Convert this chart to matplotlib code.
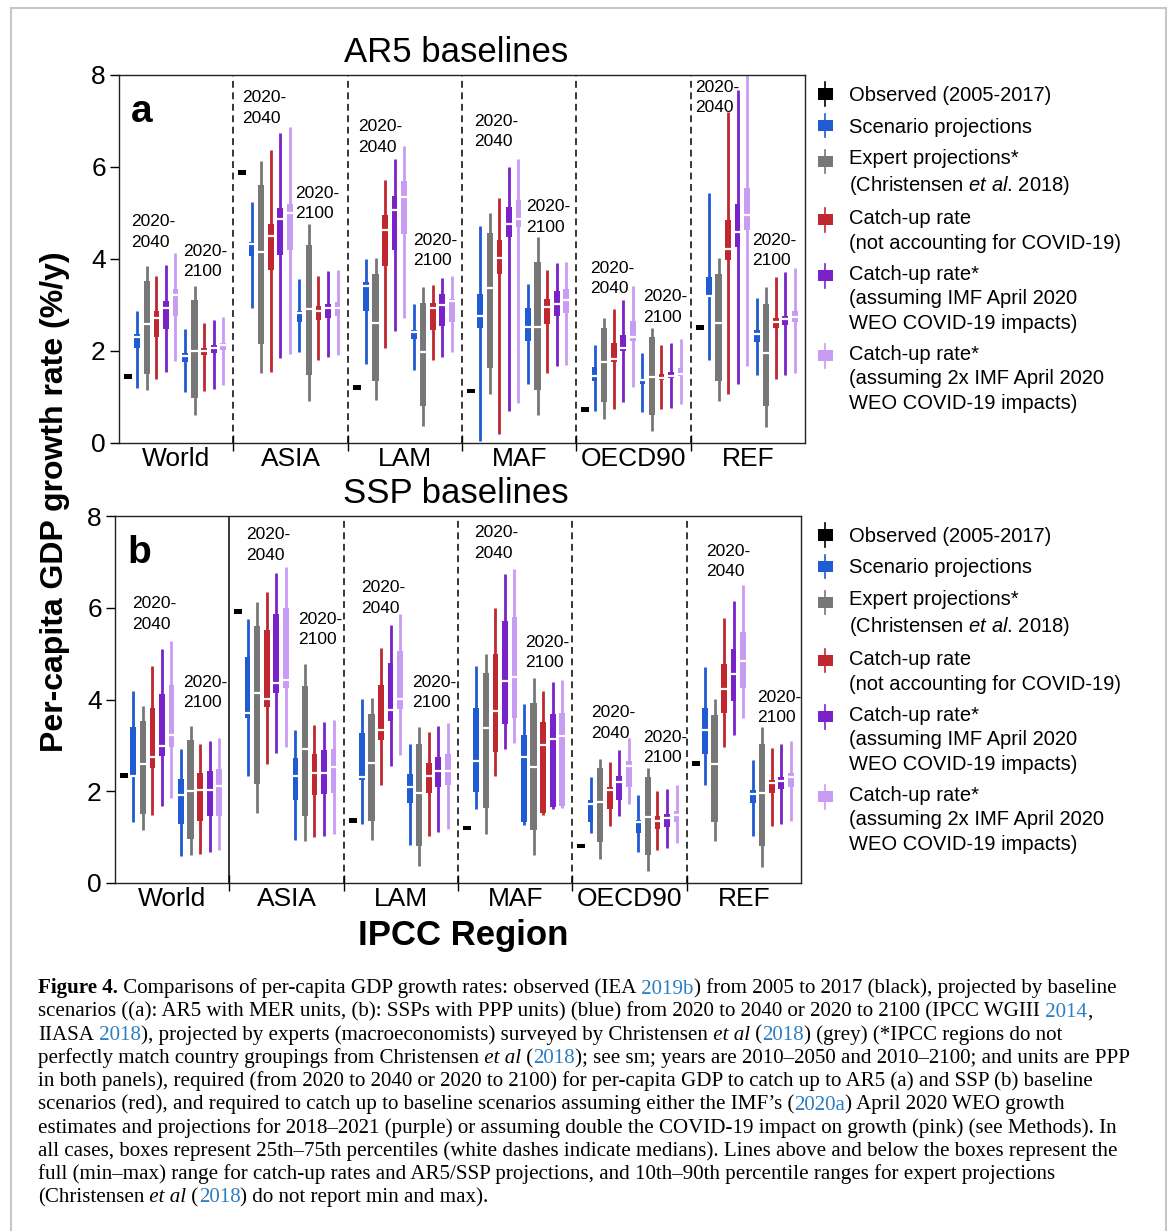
import numpy as np
import matplotlib.pyplot as plt
from matplotlib.patches import Rectangle
from matplotlib.lines import Line2D
from matplotlib.legend_handler import HandlerBase

plt.rcParams['font.family'] = ['Liberation Sans', 'DejaVu Sans']
plt.rcParams['mathtext.fontset'] = 'custom'
plt.rcParams['mathtext.rm'] = 'Liberation Sans'
plt.rcParams['mathtext.it'] = 'Liberation Sans:italic'

regions = ["World", "ASIA", "LAM", "MAF", "OECD90", "REF"]

# observed 2005-2017 growth
ar5_obs = [1.45, 5.88, 1.20, 1.13, 0.73, 2.51]
ssp_obs = [2.34, 5.92, 1.36, 1.20, 0.81, 2.60]

# each row: (min, q25, median, q75, max)  -- expert: (p10, q25, median, q75, p90)
expert_40 = [(1.16, 1.50, 2.59, 3.53, 3.85), (1.52, 2.15, 4.15, 5.61, 6.12), (0.93, 1.35, 2.61, 3.68, 4.03),
             (1.06, 1.64, 3.38, 4.57, 4.99), (0.53, 0.90, 1.77, 2.50, 2.71), (0.92, 1.34, 2.60, 3.67, 4.02)]
expert_00 = [(0.61, 0.97, 2.00, 3.11, 3.42), (0.91, 1.47, 2.92, 4.30, 4.77), (0.37, 0.81, 1.97, 3.04, 3.40),
             (0.61, 1.15, 2.52, 3.93, 4.47), (0.27, 0.61, 1.43, 2.30, 2.51), (0.35, 0.80, 1.96, 3.02, 3.39)]

# AR5, 2020-2040
ar5_scen_40 = [(1.20, 2.07, 2.30, 2.36, 2.88), (2.93, 4.06, 4.33, 4.38, 5.23), (1.72, 2.86, 3.41, 3.50, 4.01),
               (0.04, 2.51, 2.77, 3.23, 4.71), (0.70, 1.34, 1.46, 1.66, 2.13), (1.80, 3.17, 3.20, 3.60, 5.44)]
ar5_catch_40 = [(1.39, 2.30, 2.72, 2.86, 3.62), (1.54, 3.77, 4.51, 4.76, 6.36), (2.07, 3.84, 4.64, 4.95, 5.72),
                (0.19, 3.68, 4.03, 4.42, 5.33), (0.73, 1.75, 1.82, 2.17, 2.91), (1.06, 3.98, 4.22, 4.85, 7.20)]
ar5_imf_40 = [(1.54, 2.48, 2.93, 3.08, 3.86), (1.85, 4.09, 4.86, 5.11, 6.74), (2.43, 4.20, 5.06, 5.38, 6.17),
              (0.70, 4.48, 4.75, 5.13, 5.99), (0.90, 1.99, 2.06, 2.35, 3.11), (1.28, 4.26, 4.59, 5.19, 7.67)]
ar5_imf2x_40 = [(1.78, 2.75, 3.22, 3.35, 4.12), (1.94, 4.20, 5.00, 5.20, 6.88), (2.72, 4.55, 5.35, 5.69, 6.46),
                (0.86, 4.69, 4.88, 5.28, 6.18), (1.22, 2.22, 2.30, 2.66, 3.42), (1.68, 4.62, 4.95, 5.55, 8.30)]

# AR5, 2020-2100
ar5_scen_00 = [(1.10, 1.75, 1.90, 1.96, 2.48), (1.97, 2.64, 2.83, 2.88, 3.57), (1.59, 2.25, 2.41, 2.46, 3.03),
               (1.28, 2.22, 2.53, 2.94, 3.46), (0.68, 1.29, 1.37, 1.39, 1.95), (1.48, 2.20, 2.37, 2.46, 3.15)]
ar5_catch_00 = [(1.14, 1.92, 1.99, 2.06, 2.61), (1.81, 2.67, 2.86, 2.97, 3.62), (1.81, 2.45, 2.93, 3.04, 3.44),
                (1.53, 2.59, 2.95, 3.13, 3.75), (0.73, 1.37, 1.42, 1.50, 2.14), (1.40, 2.51, 2.62, 2.72, 3.60)]
ar5_imf_00 = [(1.17, 1.96, 2.06, 2.13, 2.67), (1.87, 2.72, 2.93, 3.03, 3.73), (1.88, 2.55, 2.99, 3.24, 3.58),
              (1.67, 2.77, 3.02, 3.30, 3.91), (0.77, 1.41, 1.46, 1.55, 2.17), (1.48, 2.57, 2.70, 2.77, 3.71)]
ar5_imf2x_00 = [(1.25, 2.03, 2.12, 2.17, 2.74), (1.92, 2.75, 2.93, 3.06, 3.75), (1.97, 2.64, 3.08, 3.13, 3.64),
                (1.70, 2.82, 3.10, 3.35, 3.94), (0.84, 1.46, 1.51, 1.63, 2.27), (1.53, 2.62, 2.73, 2.88, 3.81)]

# SSP, 2020-2040
ssp_scen_40 = [(1.32, 2.31, 2.34, 3.39, 4.19), (2.33, 3.59, 3.70, 4.93, 5.76), (1.29, 2.25, 2.32, 3.26, 4.02),
               (1.61, 1.99, 2.65, 3.81, 4.74), (1.10, 1.34, 1.73, 1.80, 2.30), (2.14, 2.81, 3.34, 3.81, 4.71)]
ssp_catch_40 = [(1.49, 2.50, 2.74, 3.81, 4.74), (2.60, 3.84, 4.02, 5.51, 6.35), (2.14, 3.12, 3.34, 4.31, 5.13),
                (2.33, 2.85, 3.76, 4.99, 6.00), (1.25, 1.61, 2.03, 2.10, 2.63), (2.97, 3.70, 4.22, 4.77, 5.77)]
ssp_imf_40 = [(1.67, 2.76, 2.99, 4.13, 5.09), (2.84, 4.15, 4.35, 5.86, 6.76), (2.54, 3.54, 3.77, 4.80, 5.63),
              (2.92, 3.47, 4.41, 5.71, 6.73), (1.45, 1.81, 2.21, 2.33, 2.89), (3.23, 3.97, 4.55, 5.11, 6.15)]
ssp_imf2x_40 = [(1.85, 2.96, 3.23, 4.31, 5.28), (2.97, 4.24, 4.42, 6.00, 6.89), (2.79, 3.79, 4.02, 5.05, 5.87),
                (3.05, 3.59, 4.50, 5.80, 6.85), (1.73, 2.09, 2.54, 2.65, 3.15), (3.59, 4.24, 4.84, 5.47, 6.50)]

# SSP, 2020-2100
ssp_scen_00 = [(0.59, 1.29, 1.92, 2.26, 2.92), (0.93, 1.81, 2.34, 2.72, 3.34), (0.83, 1.75, 2.09, 2.38, 3.02),
               (1.27, 1.33, 2.74, 3.23, 3.90), (0.67, 1.10, 1.32, 1.38, 1.92), (1.03, 1.74, 1.94, 2.02, 2.68)]
ssp_catch_00 = [(0.64, 1.36, 2.02, 2.39, 3.03), (1.00, 1.92, 2.39, 2.81, 3.44), (1.03, 1.97, 2.33, 2.61, 3.30),
                (1.49, 1.52, 3.01, 3.52, 4.18), (0.73, 1.17, 1.36, 1.46, 2.01), (1.25, 1.96, 2.18, 2.25, 2.94)]
ssp_imf_00 = [(0.67, 1.45, 2.03, 2.45, 3.10), (1.03, 1.94, 2.39, 2.89, 3.52), (1.12, 2.09, 2.45, 2.74, 3.42),
              (1.61, 1.65, 3.13, 3.68, 4.39), (0.76, 1.23, 1.41, 1.50, 2.04), (1.29, 2.04, 2.23, 2.32, 3.03)]
ssp_imf2x_00 = [(0.73, 1.46, 2.12, 2.49, 3.17), (1.07, 1.97, 2.52, 2.92, 3.55), (1.17, 2.14, 2.45, 2.81, 3.48),
                (1.63, 1.68, 3.20, 3.71, 4.42), (0.87, 1.32, 1.49, 1.58, 2.14), (1.36, 2.09, 2.31, 2.39, 3.10)]

# where the "2020-2040" / "2020-2100" notes sit (x, y in data units)
ar5_note_40 = [(0.11, 4.59), (1.08, 7.28), (2.09, 6.65), (3.11, 6.77), (4.12, 3.57), (5.04, 7.51)]
ar5_note_00 = [(0.56, 3.94), (1.54, 5.21), (2.57, 4.18), (3.56, 4.91), (4.58, 2.96), (5.54, 4.18)]
ssp_note_40 = [(0.15, 5.86), (1.15, 7.37), (2.15, 6.21), (3.14, 7.41), (4.16, 3.49), (5.17, 7.01)]
ssp_note_00 = [(0.60, 4.15), (1.60, 5.52), (2.60, 4.15), (3.59, 5.02), (4.62, 2.96), (5.62, 3.82)]

colors = ['#1f5bd3', '#777777', '#c0272f', '#7a22c9', '#c99cf4']
legend_labels = ["Observed (2005-2017)",
                 "Scenario projections",
                 "Expert projections*\n(Christensen $\\mathit{et\\ al}$. 2018)",
                 "Catch-up rate\n(not accounting for COVID-19)",
                 "Catch-up rate*\n(assuming IMF April 2020\nWEO COVID-19 impacts)",
                 "Catch-up rate*\n(assuming 2x IMF April 2020\nWEO COVID-19 impacts)"]


class BoxIcon(HandlerBase):
    # little box-and-whisker legend icon, lifted to sit next to the first text line
    def __init__(self, lift=0.0):
        super().__init__()
        self.lift = lift

    def create_artists(self, legend, orig_handle, xdescent, ydescent, width, height, fontsize, trans):
        col = orig_handle.get_color()
        cx = width / 2 - xdescent
        cy = height / 2 - ydescent + self.lift
        whisk = Line2D([cx, cx], [cy - 8.5, cy + 8.5], color=col, lw=1.2, transform=trans)
        box = Rectangle((cx - 5.4, cy - 4.0), 10.8, 8.0, color=col, lw=0, transform=trans)
        return [whisk, box]


def draw_panel(ax, obs, s40, s00, notes40, notes00, solid_first, letter, legend_x):
    base = np.arange(len(regions))
    ax.bar(base + 0.08, 0.1, bottom=np.array(obs) - 0.05, width=0.07, color='k', zorder=3)
    for period, series in enumerate([s40, s00]):
        for k, vals in enumerate(series):
            v = np.array(vals)
            x = base + 0.16 + (period * 5 + k) * 0.0835
            w = 0.056 if k == 1 else 0.05
            col = colors[k]
            ax.vlines(x, v[:, 0], v[:, 4], color=col, lw=2.0, zorder=2)
            ax.bar(x, v[:, 3] - v[:, 1], bottom=v[:, 1], width=w, color=col, zorder=3)
            ax.hlines(v[:, 2], x - w / 2, x + w / 2, color='white', lw=1.6, zorder=4)

    for i in range(1, len(regions)):
        if i == 1 and solid_first:
            ax.axvline(i, color='k', lw=1.1, zorder=1)
        else:
            ax.axvline(i, color='k', lw=1.1, ls=(0, (4.5, 3.0)), zorder=1)

    for (x, y) in notes40:
        ax.text(x, y, "2020-\n2040", fontsize=12.5, ha='left', va='center', linespacing=1.45)
    for (x, y) in notes00:
        ax.text(x, y, "2020-\n2100", fontsize=12.5, ha='left', va='center', linespacing=1.45)

    ax.set_xlim(0, len(regions))
    ax.set_ylim(0, 8)
    ax.set_yticks([0, 2, 4, 6, 8])
    ax.tick_params(axis='y', labelsize=19, length=6.5, width=1.0, pad=3, direction='out')
    ax.set_xticks(np.arange(1, len(regions)))
    ax.set_xticklabels([])
    ax.tick_params(axis='x', which='major', length=12, width=1.0, direction='inout')
    ax.set_xticks(base + 0.5, minor=True)
    ax.set_xticklabels(regions, minor=True)
    ax.tick_params(axis='x', which='minor', length=0, labelsize=19, pad=3)
    for sp in ax.spines.values():
        sp.set_linewidth(1.0)
        sp.set_color('#222222')
    ax.text(0.018, 0.90, letter, transform=ax.transAxes, fontsize=28, fontweight='bold', va='center')

    handles = [Line2D([], [], color=c) for c in ['k'] + colors]
    nlines = [lab.count('\n') + 1 for lab in legend_labels]
    hmap = {h: BoxIcon(lift=(n - 1) / 2 * 17.0) for h, n in zip(handles, nlines)}
    leg = ax.legend(handles, legend_labels, handler_map=hmap, loc='upper left',
                    bbox_to_anchor=(legend_x, 0.970), frameon=False, fontsize=14.5,
                    handlelength=1.0, handletextpad=0.7, labelspacing=0.62,
                    borderpad=0, borderaxespad=0)
    for t in leg.get_texts():
        t.set_linespacing(1.35)


fig = plt.figure(figsize=(11.73, 12.31), dpi=100)
W, H = 1173, 1231
ax_a = fig.add_axes([119 / W, 1 - 443 / H, 686 / W, 368 / H])
ax_b = fig.add_axes([115 / W, 1 - 883 / H, 686 / W, 367 / H])

draw_panel(ax_a, ar5_obs, [ar5_scen_40, expert_40, ar5_catch_40, ar5_imf_40, ar5_imf2x_40],
           [ar5_scen_00, expert_00, ar5_catch_00, ar5_imf_00, ar5_imf2x_00],
           ar5_note_40, ar5_note_00, False, 'a', 1.0146)
draw_panel(ax_b, ssp_obs, [ssp_scen_40, expert_40, ssp_catch_40, ssp_imf_40, ssp_imf2x_40],
           [ssp_scen_00, expert_00, ssp_catch_00, ssp_imf_00, ssp_imf2x_00],
           ssp_note_40, ssp_note_00, True, 'b', 1.0204)

fig.text(456 / W, 1 - 62 / H, "AR5 baselines", ha='center', va='baseline', fontsize=25)
fig.text(456 / W, 1 - 503 / H, "SSP baselines", ha='center', va='baseline', fontsize=25)
fig.text(463 / W, 1 - 945 / H, "IPCC Region", ha='center', va='baseline', fontsize=25, fontweight='bold')
fig.text(63 / W, 1 - 502 / H, "Per-capita GDP growth rate (%/y)", rotation=90, rotation_mode='anchor',
         ha='center', va='baseline', fontsize=23, fontweight='bold')

# light frame round the figure
fig.add_artist(Rectangle((11 / W, -0.01), 1155 / W, 1.01 - 8 / H, transform=fig.transFigure,
                         fill=False, ec='#c6c6c6', lw=1.5))

# caption, built from coloured / styled pieces
link = '#2f7dc0'
caption = [
    [("Figure 4.", 'k', 'bold', 'normal'), (" Comparisons of per-capita GDP growth rates: observed (IEA", 'k', 'normal', 'normal'),
     (" 2019b", link, 'normal', 'normal'), (") from 2005 to 2017 (black), projected by baseline", 'k', 'normal', 'normal')],
    [("scenarios ((a): AR5 with MER units, (b): SSPs with PPP units) (blue) from 2020 to 2040 or 2020 to 2100 (IPCC WGIII", 'k', 'normal', 'normal'),
     (" 2014", link, 'normal', 'normal'), (",", 'k', 'normal', 'normal')],
    [("IIASA", 'k', 'normal', 'normal'), (" 2018", link, 'normal', 'normal'),
     ("), projected by experts (macroeconomists) surveyed by Christensen", 'k', 'normal', 'normal'),
     (" et al", 'k', 'normal', 'italic'), (" (", 'k', 'normal', 'normal'), ("2018", link, 'normal', 'normal'),
     (") (grey) (*IPCC regions do not", 'k', 'normal', 'normal')],
    [("perfectly match country groupings from Christensen", 'k', 'normal', 'normal'), (" et al", 'k', 'normal', 'italic'),
     (" (", 'k', 'normal', 'normal'), ("2018", link, 'normal', 'normal'),
     ("); see sm; years are 2010\u20132050 and 2010\u20132100; and units are PPP", 'k', 'normal', 'normal')],
    [("in both panels), required (from 2020 to 2040 or 2020 to 2100) for per-capita GDP to catch up to AR5 (a) and SSP (b) baseline", 'k', 'normal', 'normal')],
    [("scenarios (red), and required to catch up to baseline scenarios assuming either the IMF\u2019s (", 'k', 'normal', 'normal'),
     ("2020a", link, 'normal', 'normal'), (") April 2020 WEO growth", 'k', 'normal', 'normal')],
    [("estimates and projections for 2018\u20132021 (purple) or assuming double the COVID-19 impact on growth (pink) (see Methods). In", 'k', 'normal', 'normal')],
    [("all cases, boxes represent 25th\u201375th percentiles (white dashes indicate medians). Lines above and below the boxes represent the", 'k', 'normal', 'normal')],
    [("full (min\u2013max) range for catch-up rates and AR5/SSP projections, and 10th\u201390th percentile ranges for expert projections", 'k', 'normal', 'normal')],
    [("(Christensen", 'k', 'normal', 'normal'), (" et al", 'k', 'normal', 'italic'), (" (", 'k', 'normal', 'normal'),
     ("2018", link, 'normal', 'normal'), (") do not report min and max).", 'k', 'normal', 'normal')],
]

cap = fig.add_axes([0, 0, 1, 1])
cap.axis('off')
for i, line in enumerate(caption):
    y = 1 - (993.5 + 23.2 * i) / H
    t = None
    for s, c, fw, fs in line:
        kw = dict(color=c, fontweight=fw, fontstyle=fs, fontsize=15.1, family='Liberation Serif')
        if t is None:
            t = cap.text(38 / W, y, s, transform=cap.transAxes, ha='left', va='baseline', **kw)
        else:
            t = cap.annotate(s, xy=(1, 0), xycoords=t, ha='left', va='bottom', **kw)

fig.savefig("out.png", dpi=100)
